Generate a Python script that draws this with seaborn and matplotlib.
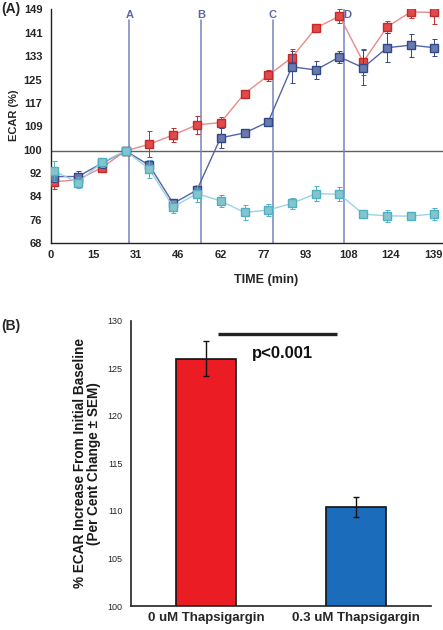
import numpy as np
import pandas as pd
import matplotlib
matplotlib.use("Agg")
import matplotlib.pyplot as plt
import seaborn as sns

# ---------------- Data ----------------
time_min = [1.3, 9.9, 18.6, 27.2, 35.8, 44.5, 53.1, 61.7, 70.4, 79.0,
            87.6, 96.3, 104.9, 113.5, 122.2, 130.8, 139.4]
red_vals = [89.3, 90.0, 94.2, 100.0, 102.3, 105.5, 109.0, 109.8, 119.8, 126.1,
            132.3, 142.5, 146.7, 130.8, 142.9, 148.1, 147.9]
red_err = [2.5, 1.0, 1.0, 0.5, 4.5, 2.5, 3.0, 2.0, 1.0, 2.0,
           3.0, 1.0, 2.5, 4.5, 2.0, 2.0, 4.0]
blue_vals = [91.1, 91.1, 95.7, 100.0, 95.0, 81.8, 86.4, 104.5, 106.2, 110.0,
             129.1, 128.0, 132.5, 128.8, 135.7, 136.6, 135.7]
blue_err = [2.0, 2.0, 1.5, 0.5, 2.0, 1.0, 1.5, 3.5, 1.0, 1.0,
            5.5, 3.0, 2.0, 6.0, 5.0, 4.0, 3.0]
cyan_vals = [93.0, 89.0, 96.0, 100.0, 93.7, 80.6, 85.2, 82.7, 78.7, 79.5,
             81.8, 85.2, 85.0, 78.1, 77.5, 77.4, 78.2]
cyan_err = [3.5, 2.0, 1.5, 0.5, 3.0, 2.0, 3.0, 2.0, 2.5, 2.0,
            2.0, 2.5, 2.5, 1.5, 2.0, 1.5, 2.0]

injection_labels = ["A", "B", "C", "D"]
injection_times = [28.6, 54.7, 80.7, 106.7]

x_tick_labels = ["0", "15", "31", "46", "62", "77", "93", "108", "124", "139"]
y_tick_labels = ["68", "76", "84", "92", "100", "109", "117", "125", "133", "141", "149"]

bar_categories = ["0 uM Thapsigargin", "0.3 uM Thapsigargin"]
bar_values = [126.0, 110.4]
bar_errors = [1.85, 1.05]
p_text = "p<0.001"

# ---------------- Style ----------------
sns.set_theme(style="white")
plt.rcParams['font.family'] = ['Liberation Sans', 'DejaVu Sans']

fig = plt.figure(figsize=(4.43, 6.30), dpi=100)

# ---------------- Panel A ----------------
axA = fig.add_axes([50.7 / 443, 1 - 243.3 / 630, (443 - 50.7) / 443, (243.3 - 9.3) / 630])

series = [
    ("red", red_vals, red_err, "#ea8a8a", "#e04a4a", "#c42a2a"),
    ("blue", blue_vals, blue_err, "#5565a5", "#6a7aae", "#2e4888"),
    ("cyan", cyan_vals, cyan_err, "#9ad4e2", "#84c4cc", "#4fb0c4"),
]

axA.axhline(100, color="#606060", lw=1.0, zorder=1)
for lab, t in zip(injection_labels, injection_times):
    top = 149 if lab == "D" else 145.3
    axA.plot([t, t], [68, top], color="#7684c0", lw=1.1, zorder=1)
    axA.text(t + (0.9 if lab == "D" else 0), 147.2, lab, ha="center", va="center",
             fontsize=8, fontweight="bold", color="#5a66a8", zorder=2)

for i, (name, vals, errs, lc, fc, ec) in enumerate(series):
    df = pd.DataFrame({"time": time_min, "ecar": vals})
    axA.errorbar(time_min, vals, yerr=errs, fmt="none", ecolor=ec, elinewidth=0.7,
                 capsize=1.8, capthick=0.7, zorder=3 + i)
    sns.lineplot(data=df, x="time", y="ecar", ax=axA, color=lc, lw=1.0,
                 marker="s", markersize=6.0, markerfacecolor=fc,
                 markeredgecolor=ec, markeredgewidth=1.0, zorder=3 + i)

axA.set_xlim(0, 142.5)
axA.set_ylim(68, 149)
axA.set_xticks(np.linspace(0, 139, 10))
axA.set_xticklabels(x_tick_labels)
axA.set_yticks(np.linspace(68, 149, 11))
axA.set_yticklabels(y_tick_labels)
for s in ["top", "right"]:
    axA.spines[s].set_visible(False)
for s in ["left", "bottom"]:
    axA.spines[s].set_color("#222222")
    axA.spines[s].set_linewidth(1.0)
axA.tick_params(axis="both", which="major", direction="out", length=3, width=0.8,
                color="#222222", labelsize=8, pad=2)
axA.tick_params(axis="y", pad=3)
for t in axA.get_xticklabels() + axA.get_yticklabels():
    t.set_fontweight("bold")
axA.set_xlabel("TIME (min)", fontsize=9, fontweight="bold")
axA.set_ylabel("ECAR (%)", fontsize=8, fontweight="bold")
axA.xaxis.set_label_coords((266 - 50.7) / (443 - 50.7), -(274 - 243.3) / (243.3 - 9.3))
axA.yaxis.set_label_coords(-(50.7 - 19) / (443 - 50.7), (243.3 - 115) / (243.3 - 9.3))
fig.text(1 / 443, 1 - 9 / 630, "(A)", fontsize=10, fontweight="bold", va="center", ha="left")

# ---------------- Panel B ----------------
axB = fig.add_axes([131 / 443, 1 - 606 / 630, 300 / 443, (606 - 320.7) / 630])
dfb = pd.DataFrame({"cond": bar_categories, "val": bar_values})
sns.barplot(data=dfb, x="cond", y="val", hue="cond", palette=["#ec1c24", "#1c6cbc"],
            saturation=1, width=0.4, edgecolor="#111111", linewidth=1.2, legend=False,
            ax=axB, zorder=2)
axB.errorbar([0, 1], bar_values, yerr=bar_errors, fmt="none", ecolor="#111111",
             elinewidth=1.0, capsize=2.5, capthick=1.0, zorder=4)
axB.set_ylim(100, 130)
axB.set_xlim(-0.5, 1.5)
axB.set_yticks(np.arange(100, 131, 5))
axB.set_xticks([-0.5, 0.5, 1.5])
axB.set_xticklabels(["", "", ""])
axB.set_xticks([0, 1], minor=True)
axB.set_xticklabels(bar_categories, minor=True, fontsize=9.5, fontweight="bold")
axB.tick_params(axis="x", which="minor", length=0, pad=4)
axB.tick_params(axis="x", which="major", direction="out", length=4, width=1.0, color="#222222")
axB.tick_params(axis="y", direction="out", length=4, width=1.0, color="#222222",
                labelsize=6.5, pad=2)
for s in ["top", "right"]:
    axB.spines[s].set_visible(False)
for s in ["left", "bottom"]:
    axB.spines[s].set_color("#222222")
    axB.spines[s].set_linewidth(1.2)
axB.set_xlabel("")
axB.set_ylabel("% ECAR Increase From Initial Baseline\n(Per Cent Change \u00b1 SEM)",
               fontsize=9.8, fontweight="bold", linespacing=1.0, color="#1a1a1a")
axB.yaxis.set_label_coords(-(131 - 101) / 300, 0.5)

axB.plot([0.08, 0.873], [128.57, 128.57], color="#222222", lw=2.4, solid_capstyle="butt", zorder=5)
axB.text(0.507, 126.6, p_text, ha="center", va="center", fontsize=12, fontweight="bold",
         color="#111111")
fig.text(1 / 443, 1 - 326 / 630, "(B)", fontsize=10, fontweight="bold", va="center", ha="left")

fig.savefig("out.png", dpi=100)
